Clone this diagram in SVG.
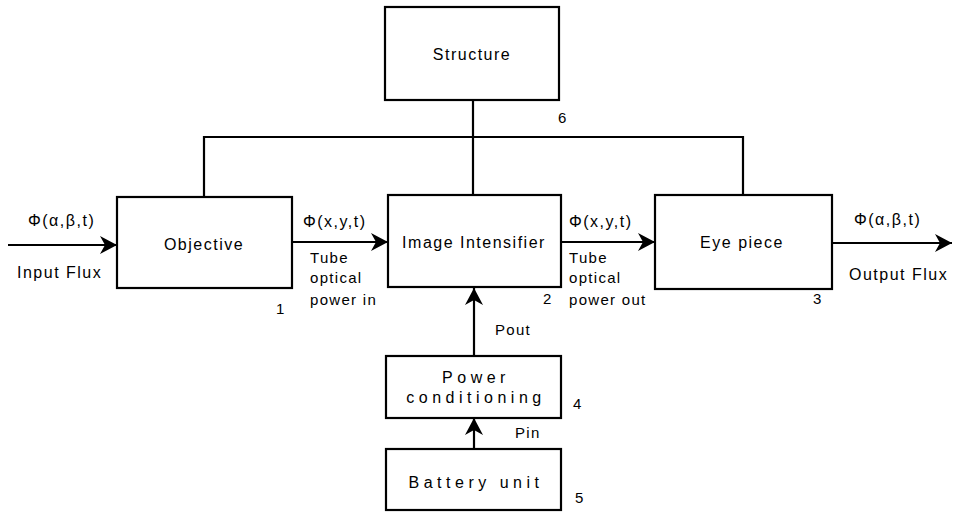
<svg xmlns="http://www.w3.org/2000/svg" width="967" height="512" viewBox="0 0 967 512">
<defs>
<marker id="arr" markerUnits="userSpaceOnUse" markerWidth="20" markerHeight="20" viewBox="-18 -10 20 20" refX="0" refY="0" orient="auto">
<path d="M0,0 L-17,-9 L-12,0 L-17,9 Z" fill="#000"/>
</marker>
</defs>
<style>
.box{fill:#fff;stroke:#000;stroke-width:2.2}
.ln{fill:none;stroke:#000;stroke-width:2.2}
.t{font-family:"Liberation Sans",Arial,sans-serif;font-size:16px;fill:#000;letter-spacing:1.5px}
.w{font-family:"Liberation Sans",Arial,sans-serif;font-size:16px;fill:#000;letter-spacing:4.5px}
.l{font-family:"Liberation Sans",Arial,sans-serif;font-size:15px;fill:#000;letter-spacing:1.3px}
.n{font-family:"Liberation Sans",Arial,sans-serif;font-size:15px;fill:#000}
</style>
<rect width="967" height="512" fill="#fff"/>
<g id="connectors">
<path class="ln" d="M473,100 V195 M204,197 V137 H743 V195"/>
<line class="ln" x1="8" y1="245" x2="117" y2="245" marker-end="url(#arr)"/>
<line class="ln" x1="292" y1="242" x2="388" y2="242" marker-end="url(#arr)"/>
<line class="ln" x1="561" y1="242" x2="655" y2="242" marker-end="url(#arr)"/>
<line class="ln" x1="832" y1="243" x2="952" y2="243" marker-end="url(#arr)"/>
<line class="ln" x1="474" y1="356" x2="474" y2="288" marker-end="url(#arr)"/>
<line class="ln" x1="474" y1="449" x2="474" y2="418" marker-end="url(#arr)"/>
</g>
<g id="labels">
<text class="t" x="28" y="226">Φ(α,β,t)</text>
<text class="t" x="17" y="278">Input Flux</text>
<text class="t" x="303" y="227">Φ(x,y,t)</text>
<text class="l" x="310" y="263">Tube</text>
<text class="l" x="310" y="283">optical</text>
<text class="l" x="310" y="305">power in</text>
<text class="t" x="569" y="227">Φ(x,y,t)</text>
<text class="l" x="569" y="263">Tube</text>
<text class="l" x="569" y="283">optical</text>
<text class="l" x="569" y="305">power out</text>
<text class="t" x="854" y="225">Φ(α,β,t)</text>
<text class="t" x="849" y="280">Output Flux</text>
<text class="l" x="495" y="335">Pout</text>
<text class="l" x="515" y="438">Pin</text>
</g>
<g id="structure">
<rect class="box" x="385" y="7" width="174" height="93"/>
<text class="t" x="472" y="60" text-anchor="middle">Structure</text>
<text class="n" x="558" y="123">6</text>
</g>
<g id="objective">
<rect class="box" x="117" y="197" width="175" height="91"/>
<text class="t" x="204" y="250" text-anchor="middle">Objective</text>
<text class="n" x="276" y="314">1</text>
</g>
<g id="image-intensifier">
<rect class="box" x="388" y="195" width="173" height="92"/>
<text class="t" x="474" y="248" text-anchor="middle">Image Intensifier</text>
<text class="n" x="543" y="304">2</text>
</g>
<g id="eye-piece">
<rect class="box" x="655" y="195" width="177" height="94"/>
<text class="t" x="742" y="248" text-anchor="middle">Eye piece</text>
<text class="n" x="813" y="304">3</text>
</g>
<g id="power-conditioning">
<rect class="box" x="386" y="356" width="175" height="62"/>
<text class="w" x="476" y="383" text-anchor="middle">Power</text>
<text class="w" x="476" y="403" text-anchor="middle">conditioning</text>
<text class="n" x="573" y="409">4</text>
</g>
<g id="battery-unit">
<rect class="box" x="386" y="449" width="175" height="61"/>
<text class="w" x="476" y="488" text-anchor="middle">Battery unit</text>
<text class="n" x="575" y="503">5</text>
</g>
</svg>
